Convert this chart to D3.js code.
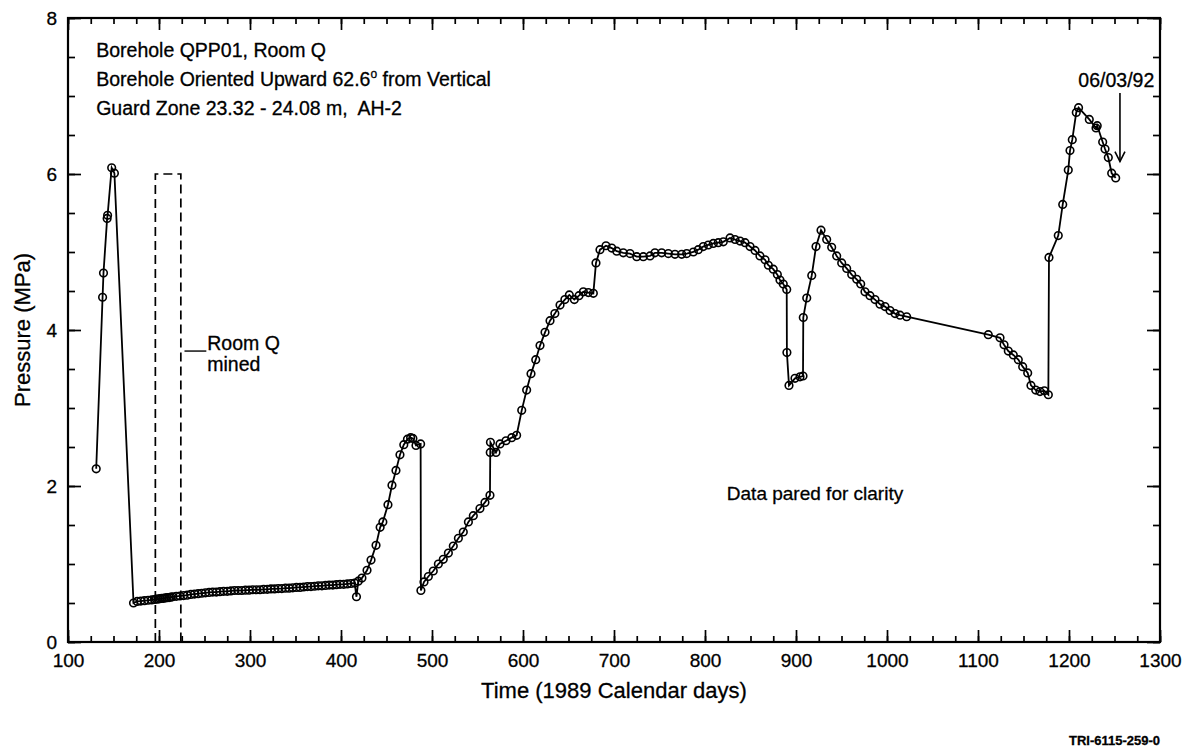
<!DOCTYPE html>
<html>
<head>
<meta charset="utf-8">
<script src="https://cdn.jsdelivr.net/npm/d3@7/dist/d3.min.js"></script>
<style>
  body { margin: 0; background: #fff; }
  svg text { font-family: "Liberation Sans", Arial, sans-serif; fill: #000; stroke: #000; stroke-width: 0.3px; white-space: pre; }
</style>
</head>
<body>
<div id="chart"></div>
<script>
// Time in 1989 calendar days
const days = [
  131, 138, 139, 143, 143.5, 148, 151, 172,
  176, 180, 184, 188, 192, 195, 197, 199, 201, 203, 205, 207, 209, 211, 213, 215,
  219, 223, 227, 231, 235, 239, 243, 247, 251, 255, 259, 263, 267, 271, 275, 279,
  283, 287, 291, 295, 299, 303, 307, 311, 315, 319, 323, 327, 331, 335, 339, 343,
  347, 351, 355, 359, 363, 367, 371, 375, 379, 383, 387, 391, 395, 399, 403, 407,
  411, 415, 417, 419, 423,
  428.6, 433, 438.5, 443, 446, 451.6, 456, 460.4, 464.8, 469, 473, 476.5, 479, 482.4, 487.5,
  487.8, 491.2, 496, 501.4, 507, 512.4, 518, 523.4, 529, 534.4, 540, 545.4, 552.7, 558.2, 563.7,
  564, 564.2, 570.3, 574.7, 581.3, 587.6, 593,
  598.6, 604, 608.8, 614, 618.7, 624.2, 629.7, 635, 640.7, 646, 650.9, 656.4, 661.5, 666.3, 671.8, 677.3,
  680.2, 684.6, 691.2, 697.5, 703, 710.2, 717.6, 725, 732.2, 739.6, 745, 752.4, 759.7, 767, 774.4,
  779.9, 787.2, 792.6, 798.1, 803.6, 809.1, 814.6, 820.1, 827.5, 833, 838.5, 844, 849.5, 855,
  860.4, 866, 869.6, 875, 879.5, 882.4, 886, 889.8,
  890, 892.3, 898.9, 904.4, 907.7,
  908, 911.8, 917.3, 922, 927.5,
  933.7, 939.2, 944.7, 950.2, 955.7, 961.2, 966.7, 971.1, 975.8, 981.3, 986.8, 992.3, 997.8,
  1003.3, 1008.8, 1014.3, 1021.6,
  1111.3, 1124.2, 1128.6, 1133.3, 1138.8, 1144.3, 1149.1, 1154.6, 1158.2, 1163.4, 1168.1, 1172.9, 1177.3,
  1178, 1188.2, 1193.1, 1199.2, 1201.1, 1203.6, 1208, 1210.5,
  1222.3, 1229.7, 1231, 1237, 1239.6, 1243.2, 1246.9, 1251.3
];

// Guard zone pressure (MPa)
const pressure = [
  2.22, 4.42, 4.73, 5.43, 5.47, 6.08, 6.01, 0.50,
  0.52, 0.525, 0.53, 0.535, 0.54, 0.545, 0.55, 0.55, 0.555, 0.56, 0.56, 0.565, 0.57, 0.57, 0.575, 0.58,
  0.585, 0.59, 0.595, 0.60, 0.61, 0.615, 0.62, 0.625, 0.63, 0.635, 0.64, 0.64, 0.645, 0.65, 0.65, 0.655,
  0.66, 0.66, 0.66, 0.665, 0.665, 0.67, 0.67, 0.67, 0.675, 0.675, 0.68, 0.68, 0.685, 0.685, 0.69, 0.69,
  0.695, 0.70, 0.70, 0.705, 0.71, 0.71, 0.715, 0.72, 0.72, 0.725, 0.73, 0.73, 0.735, 0.74, 0.74, 0.745,
  0.75, 0.755, 0.58, 0.78, 0.82,
  0.92, 1.05, 1.24, 1.47, 1.54, 1.76, 2.01, 2.20, 2.40, 2.53, 2.60, 2.62, 2.61, 2.52, 2.54,
  0.66, 0.77, 0.84, 0.91, 1.00, 1.06, 1.14, 1.23, 1.33, 1.41, 1.54, 1.62, 1.71, 1.79, 1.88,
  2.43, 2.56, 2.43, 2.54, 2.58, 2.62, 2.65,
  2.97, 3.23, 3.44, 3.62, 3.80, 3.97, 4.12, 4.21, 4.32, 4.39, 4.45, 4.39, 4.44, 4.49, 4.48, 4.47,
  4.86, 5.03, 5.08, 5.05, 5.01, 4.99, 4.98, 4.94, 4.94, 4.95, 4.99, 4.99, 4.98, 4.97, 4.97,
  4.98, 5.00, 5.03, 5.07, 5.09, 5.11, 5.12, 5.13, 5.18, 5.16, 5.14, 5.12, 5.07, 5.02,
  4.95, 4.90, 4.83, 4.78, 4.71, 4.64, 4.59, 4.52,
  3.71, 3.29, 3.38, 3.40, 3.41,
  4.16, 4.41, 4.70, 5.07, 5.28,
  5.16, 5.06, 4.95, 4.86, 4.79, 4.71, 4.65, 4.59, 4.49, 4.44, 4.39, 4.33, 4.30,
  4.25, 4.21, 4.19, 4.17,
  3.94, 3.90, 3.81, 3.73, 3.68, 3.62, 3.53, 3.45, 3.29, 3.23, 3.21, 3.22, 3.17,
  4.93, 5.21, 5.61, 6.05, 6.30, 6.44, 6.79, 6.85,
  6.70, 6.59, 6.62, 6.41, 6.32, 6.21, 6.01, 5.95
];

const xTicks = [100, 200, 300, 400, 500, 600, 700, 800, 900, 1000, 1100, 1200, 1300];
const yTicks = [0, 2, 4, 6, 8];

const infoLines = [
  "Borehole QPP01, Room Q",
  "Borehole Oriented Upward 62.6",
  "Guard Zone 23.32 - 24.08 m,  AH-2"
];

// Room Q mining window (days) drawn as dashed box
const miningDays = [196, 224];
const miningTop = 6;

const width = 1187, height = 750;

const x = d3.scaleLinear().domain([100, 1300]).range([68, 1160]);
const y = d3.scaleLinear().domain([0, 8]).range([642, 18]);

const svg = d3.select("#chart").append("svg")
  .attr("width", width)
  .attr("height", height);

// minor ticks on all four sides
const xMinor = d3.range(100, 1301, 25);
const yMinor = d3.range(0, 8.01, 0.5);

function styleAxis(g, fontSize) {
  g.select(".domain").remove();
  g.selectAll("line").attr("stroke", "#000").attr("stroke-width", 1.7);
  g.selectAll("text").style("font-size", fontSize);
}

svg.append("g").attr("transform", "translate(0," + y(0) + ")")
  .call(d3.axisBottom(x).tickValues(xMinor).tickSize(-6).tickFormat(""))
  .call(g => styleAxis(g));
svg.append("g").attr("transform", "translate(0," + y(0) + ")")
  .call(d3.axisBottom(x).tickValues(xTicks).tickSize(-12).tickPadding(12).tickFormat(d3.format("d")))
  .call(g => styleAxis(g, "19px"));

svg.append("g").attr("transform", "translate(0," + y(8) + ")")
  .call(d3.axisTop(x).tickValues(xMinor).tickSize(-6).tickFormat(""))
  .call(g => styleAxis(g));
svg.append("g").attr("transform", "translate(0," + y(8) + ")")
  .call(d3.axisTop(x).tickValues(xTicks).tickSize(-12).tickFormat(""))
  .call(g => styleAxis(g));

svg.append("g").attr("transform", "translate(" + x(100) + ",0)")
  .call(d3.axisLeft(y).tickValues(yMinor).tickSize(-7).tickFormat(""))
  .call(g => styleAxis(g));
svg.append("g").attr("transform", "translate(" + x(100) + ",0)")
  .call(d3.axisLeft(y).tickValues(yTicks).tickSize(-13).tickPadding(11).tickFormat(d3.format("d")))
  .call(g => styleAxis(g, "19px"));

svg.append("g").attr("transform", "translate(" + x(1300) + ",0)")
  .call(d3.axisRight(y).tickValues(yMinor).tickSize(-7).tickFormat(""))
  .call(g => styleAxis(g));
svg.append("g").attr("transform", "translate(" + x(1300) + ",0)")
  .call(d3.axisRight(y).tickValues(yTicks).tickSize(-13).tickFormat(""))
  .call(g => styleAxis(g));

// frame
svg.append("rect")
  .attr("x", x(100)).attr("y", y(8))
  .attr("width", x(1300) - x(100)).attr("height", y(0) - y(8))
  .attr("fill", "none").attr("stroke", "#000").attr("stroke-width", 2.2);

// dashed mining box
svg.append("path")
  .attr("d", "M" + x(miningDays[0]) + "," + y(0) + "V" + y(miningTop) + "H" + x(miningDays[1]) + "V" + y(0))
  .attr("fill", "none").attr("stroke", "#000").attr("stroke-width", 1.7)
  .attr("stroke-dasharray", "9,5");

// data
const points = days.map((d, i) => ({ day: d, p: pressure[i] }));

const line = d3.line()
  .x(d => x(d.day))
  .y(d => y(d.p));

svg.append("path")
  .datum(points)
  .attr("d", line)
  .attr("fill", "none")
  .attr("stroke", "#000")
  .attr("stroke-width", 1.8);

svg.append("g").selectAll("circle")
  .data(points)
  .enter().append("circle")
  .attr("cx", d => x(d.day))
  .attr("cy", d => y(d.p))
  .attr("r", 3.8)
  .attr("fill", "none")
  .attr("stroke", "#000")
  .attr("stroke-width", 1.6);

// info text block
const info = svg.append("g").style("font-size", "19.5px");
info.append("text").attr("x", x(131)).attr("y", 57).text(infoLines[0]);
const l2 = info.append("text").attr("x", x(131)).attr("y", 86).text(infoLines[1]);
l2.append("tspan").attr("dy", -8).style("font-size", "12px").text("o");
l2.append("tspan").attr("dy", 8).text(" from Vertical");
info.append("text").attr("x", x(131)).attr("y", 115).text(infoLines[2]);

// Room Q mined label
svg.append("line")
  .attr("x1", x(228)).attr("x2", x(252))
  .attr("y1", y(3.73)).attr("y2", y(3.73))
  .attr("stroke", "#000").attr("stroke-width", 1.4);
svg.append("text").attr("x", x(253)).attr("y", y(3.75)).style("font-size", "19.5px").text("Room Q");
svg.append("text").attr("x", x(253)).attr("y", y(3.48)).style("font-size", "19.5px").text("mined");

// 06/03/92 arrow
svg.append("text").attr("x", x(1252)).attr("y", y(7.12))
  .attr("text-anchor", "middle").style("font-size", "19.5px").text("06/03/92");
svg.append("path")
  .attr("d", "M" + x(1256) + "," + y(7.04) + "V" + y(6.16))
  .attr("stroke", "#000").attr("stroke-width", 1.6).attr("fill", "none");
svg.append("path")
  .attr("d", "M" + (x(1256) - 5) + "," + (y(6.16) - 10) + "L" + x(1256) + "," + y(6.16) + "L" + (x(1256) + 5) + "," + (y(6.16) - 10))
  .attr("stroke", "#000").attr("stroke-width", 1.6).attr("fill", "none");

svg.append("text").attr("x", x(824)).attr("y", 500)
  .style("font-size", "19px").text("Data pared for clarity");

// axis titles
svg.append("text")
  .attr("x", (x(100) + x(1300)) / 2).attr("y", 698)
  .attr("text-anchor", "middle").style("font-size", "22px")
  .text("Time (1989 Calendar days)");

svg.append("text")
  .attr("transform", "translate(30," + y(4) + ") rotate(-90)")
  .attr("text-anchor", "middle").style("font-size", "22px")
  .text("Pressure (MPa)");

svg.append("text")
  .attr("x", 1160).attr("y", 745)
  .attr("text-anchor", "end").style("font-size", "13px").style("font-weight", "bold")
  .text("TRI-6115-259-0");
</script>
</body>
</html>
